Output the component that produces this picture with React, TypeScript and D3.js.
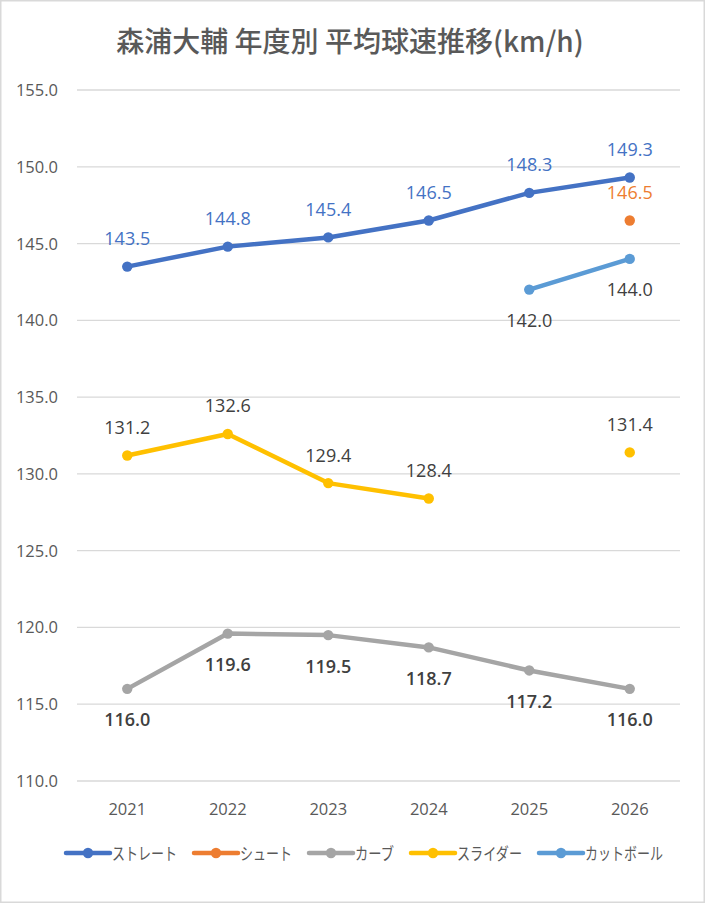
import React, { useEffect, useRef } from 'react';
import * as d3 from 'd3';

const years = ['2021', '2022', '2023', '2024', '2025', '2026'];
const straight = [143.5, 144.8, 145.4, 146.5, 148.3, 149.3];
const shoot = [null, null, null, null, null, 146.5];
const curve = [116.0, 119.6, 119.5, 118.7, 117.2, 116.0];
const slider = [131.2, 132.6, 129.4, 128.4, null, 131.4];
const cutBall = [null, null, null, null, 142.0, 144.0];
const seriesNames = ['ストレート', 'シュート', 'カーブ', 'スライダー', 'カットボール'];
const yTicks = [110, 115, 120, 125, 130, 135, 140, 145, 150, 155];

const numFont = '"Segoe UI", "Open Sans", "Noto Sans", sans-serif';
const jpFont = '"Noto Sans CJK JP", "Noto Sans", sans-serif';

export default function App() {
  const svgRef = useRef<SVGSVGElement>(null);

  useEffect(() => {
    if (!svgRef.current) return;
    const svg = d3.select(svgRef.current);
    svg.selectAll('*').remove();

    const W = 705;
    const H = 903;

    svg
      .append('rect')
      .attr('x', 0.75)
      .attr('y', 0.75)
      .attr('width', W - 1.5)
      .attr('height', H - 1.5)
      .attr('fill', '#fff')
      .attr('stroke', '#d9d9d9')
      .attr('stroke-width', 1.5);

    const x = d3.scaleBand().domain(years).range([77, 680]);
    const y = d3.scaleLinear().domain([110, 155]).range([781, 90]);
    const cx = (d: string) => (x(d) || 0) + x.bandwidth() / 2;

    // title
    svg
      .append('text')
      .attr('x', 350)
      .attr('y', 52)
      .attr('text-anchor', 'middle')
      .style('font-family', jpFont)
      .style('font-size', '28px')
      .style('font-weight', 500)
      .style('fill', '#595959')
      .text('森浦大輔 年度別 平均球速推移(km/h)');

    // grid + y labels
    svg
      .selectAll('.grid')
      .data(yTicks)
      .enter()
      .append('line')
      .attr('x1', 77)
      .attr('x2', 680)
      .attr('y1', (d) => y(d))
      .attr('y2', (d) => y(d))
      .attr('stroke', '#d9d9d9')
      .attr('stroke-width', 1.3);

    svg
      .selectAll('.ylab')
      .data(yTicks)
      .enter()
      .append('text')
      .attr('x', 58)
      .attr('y', (d) => y(d) + 6)
      .attr('text-anchor', 'end')
      .style('font-family', numFont)
      .style('font-size', '16.5px')
      .style('fill', '#595959')
      .text((d) => d.toFixed(1));

    svg
      .selectAll('.xlab')
      .data(years)
      .enter()
      .append('text')
      .attr('x', (d) => cx(d))
      .attr('y', 815)
      .attr('text-anchor', 'middle')
      .style('font-family', numFont)
      .style('font-size', '16.5px')
      .style('fill', '#595959')
      .text((d) => d);

    const series = [
      { name: seriesNames[0], values: straight, color: '#4472C4', labelColor: '#4472C4', above: true, bold: false },
      { name: seriesNames[1], values: shoot, color: '#ED7D31', labelColor: '#ED7D31', above: true, bold: false },
      { name: seriesNames[2], values: curve, color: '#A5A5A5', labelColor: '#404040', above: false, bold: true },
      { name: seriesNames[3], values: slider, color: '#FFC000', labelColor: '#404040', above: true, bold: false },
      { name: seriesNames[4], values: cutBall, color: '#5B9BD5', labelColor: '#404040', above: false, bold: false },
    ];

    const line = d3
      .line<number | null>()
      .defined((d) => d != null)
      .x((_, i) => cx(years[i]))
      .y((d) => y(d as number));

    series.forEach((s) => {
      const pts = s.values
        .map((v, i) => ({ v, year: years[i] }))
        .filter((p) => p.v != null) as { v: number; year: string }[];

      svg
        .append('path')
        .datum(s.values)
        .attr('d', line as any)
        .attr('fill', 'none')
        .attr('stroke', s.color)
        .attr('stroke-width', 4.5)
        .attr('stroke-linejoin', 'round')
        .attr('stroke-linecap', 'round');

      svg
        .append('g')
        .selectAll('circle')
        .data(pts)
        .enter()
        .append('circle')
        .attr('cx', (d) => cx(d.year))
        .attr('cy', (d) => y(d.v))
        .attr('r', 5.2)
        .attr('fill', s.color);
    });

    // data labels on top
    series.forEach((s) => {
      const pts = s.values
        .map((v, i) => ({ v, year: years[i] }))
        .filter((p) => p.v != null) as { v: number; year: string }[];
      svg
        .append('g')
        .selectAll('text')
        .data(pts)
        .enter()
        .append('text')
        .attr('x', (d) => cx(d.year))
        .attr('y', (d) => y(d.v) + (s.above ? -21.5 : 37.5))
        .attr('text-anchor', 'middle')
        .style('font-family', numFont)
        .style('font-size', '18px')
        .style('font-weight', s.bold ? 600 : 400)
        .style('fill', s.labelColor)
        .text((d) => d.v.toFixed(1));
    });

    // legend
    const legend = svg.append('g').attr('transform', 'translate(0,853)');
    let lx = 66;
    series.forEach((s) => {
      const tw = s.name.length * 13;
      legend
        .append('line')
        .attr('x1', lx)
        .attr('x2', lx + 44)
        .attr('y1', 0)
        .attr('y2', 0)
        .attr('stroke', s.color)
        .attr('stroke-width', 4.5)
        .attr('stroke-linecap', 'round');
      legend
        .append('circle')
        .attr('cx', lx + 22)
        .attr('cy', 0)
        .attr('r', 5.2)
        .attr('fill', s.color);
      legend
        .append('text')
        .attr('x', lx + 46)
        .attr('y', 6.5)
        .attr('textLength', tw)
        .attr('lengthAdjust', 'spacingAndGlyphs')
        .style('font-family', jpFont)
        .style('font-size', '17px')
        .style('fill', '#595959')
        .text(s.name);
      lx += 46 + tw + 17;
    });
  }, []);

  return (
    <svg
      ref={svgRef}
      width={705}
      height={903}
      style={{ position: 'absolute', left: 0, top: 0, display: 'block' }}
    ></svg>
  );
}
